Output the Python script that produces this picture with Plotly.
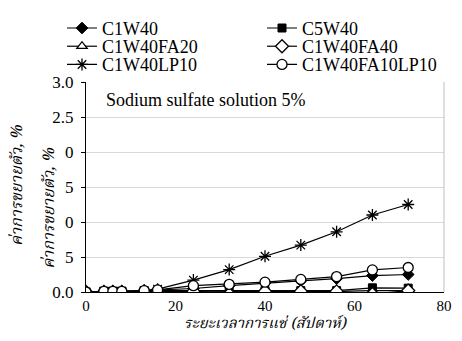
import plotly.graph_objects as go

# Immersion time (weeks)
weeks = [0, 4, 6, 8, 13, 16, 24, 32, 40, 48, 56, 64, 72]

# Expansion (%) for each mix
c1w40 = [0.00, 0.01, 0.01, 0.01, 0.02, 0.03, 0.05, 0.09, 0.13, 0.16, 0.19, 0.235, 0.25]
c5w40 = [0.00, 0.01, 0.01, 0.01, 0.01, 0.02, 0.02, 0.02, 0.02, 0.02, 0.02, 0.06, 0.055]
c1w40fa20 = [0.00, 0.00, 0.00, 0.00, 0.01, 0.01, 0.01, 0.01, 0.01, 0.01, 0.01, 0.02, 0.02]
c1w40fa40 = [0.00, 0.00, 0.00, 0.00, 0.01, 0.01, 0.01, -0.03, 0.01, 0.01, 0.01, -0.03, 0.02]
c1w40lp10 = [0.00, 0.01, 0.01, 0.01, 0.02, 0.04, 0.17, 0.32, 0.51, 0.67, 0.86, 1.10, 1.25]
c1w40fa10lp10 = [0.00, 0.01, 0.01, 0.01, 0.02, 0.03, 0.09, 0.11, 0.14, 0.18, 0.22, 0.315, 0.35]

series_names = ["C1W40", "C5W40", "C1W40FA20", "C1W40FA40", "C1W40LP10", "C1W40FA10LP10"]
series_values = [c1w40, c5w40, c1w40fa20, c1w40fa40, c1w40lp10, c1w40fa10lp10]

x_ticks = [0, 20, 40, 60, 80]
y_ticks = [0.0, 0.5, 1.0, 1.5, 2.0, 2.5, 3.0]
y_tick_text = ["0.0", "0.5", "1.0", "1.5", "2.0", "2.5", "3.0"]

marker_styles = [
    dict(symbol="diamond", size=9, color="black", line=dict(color="black", width=1)),
    dict(symbol="square", size=8, color="black", line=dict(color="black", width=1)),
    dict(symbol="triangle-up", size=9, color="white", line=dict(color="black", width=1.3)),
    dict(symbol="diamond", size=10, color="white", line=dict(color="black", width=1.3)),
    dict(symbol="asterisk-open", size=10, color="black", line=dict(color="black", width=1.3)),
    dict(symbol="circle", size=10, color="white", line=dict(color="black", width=1.3)),
]

# legend rows: two entries per row, one legend per row
legend_ids = ["legend", "legend", "legend2", "legend2", "legend3", "legend3"]

serif = "Liberation Serif, Times New Roman, serif"
thai = "Noto Serif Thai, Noto Sans Thai, Liberation Serif, serif"

PLOT_TOP, PLOT_BOTTOM = 73, 292
plot_h = PLOT_BOTTOM - PLOT_TOP


def paper_y(px):
    return (PLOT_BOTTOM - px) / plot_h


fig = go.Figure()
for name, vals, mk, lg in zip(series_names, series_values, marker_styles, legend_ids):
    fig.add_trace(go.Scatter(
        x=weeks, y=vals, name=name, mode="lines+markers",
        line=dict(color="black", width=1.2),
        marker=mk, legend=lg,
    ))


def legend_row(yc):
    return dict(
        orientation="h", x=-0.035, y=paper_y(yc), xanchor="left", yanchor="middle",
        entrywidth=155, entrywidthmode="pixels",
        font=dict(family=serif, size=18, color="black"),
        itemwidth=30, tracegroupgap=0, bgcolor="rgba(0,0,0,0)",
    )


fig.update_layout(
    width=462, height=341,
    margin=dict(l=86, r=10, t=PLOT_TOP, b=341 - PLOT_BOTTOM),
    paper_bgcolor="white", plot_bgcolor="white",
    font=dict(family=serif, size=16, color="black"),
    showlegend=True,
    legend=legend_row(17),
    legend2=legend_row(36),
    legend3=legend_row(55),
    xaxis=dict(
        range=[0, 80], tickvals=x_ticks, showgrid=False, zeroline=False,
        showline=True, linecolor="black", linewidth=1.2,
        ticks="", tickfont=dict(family=serif, size=15),
        mirror=False,
    ),
    yaxis=dict(
        range=[0, 3.0], tickvals=y_ticks, ticktext=y_tick_text,
        showgrid=True, gridcolor="#d9d9d9", gridwidth=1, zeroline=False,
        showline=True, linecolor="black", linewidth=1.2,
        ticks="outside", ticklen=4, tickcolor="black",
        ticklabelstandoff=4, tickfont=dict(family=serif, size=17),
    ),
    shapes=[dict(type="line", xref="paper", yref="paper", x0=1, x1=1, y0=0, y1=1,
                 line=dict(color="#bfbfbf", width=1))],
    annotations=[
        dict(text="Sodium sulfate solution 5%", xref="paper", yref="paper",
             x=0.05, y=paper_y(92), xanchor="left", yanchor="middle", showarrow=False,
             font=dict(family=serif, size=18)),
        dict(text="<i>ระยะเวลาการแช่ (สัปดาห์)</i>", xref="paper", yref="paper",
             x=0.5, y=paper_y(340), xanchor="center", yanchor="bottom", showarrow=False,
             font=dict(family=thai, size=15)),
        dict(text="<i>ค่าการขยายตัว, %</i>", xref="paper", yref="paper",
             x=-0.19, y=0.51, xanchor="center", yanchor="middle", showarrow=False,
             textangle=-90, bgcolor="white", font=dict(family=thai, size=16)),
        dict(text="<i>ค่าการขยายตัว, %</i>", xref="paper", yref="paper",
             x=-0.101, y=0.40, xanchor="center", yanchor="middle", showarrow=False,
             textangle=-90, bgcolor="white", font=dict(family=thai, size=16)),
    ],
)

fig.write_html("out.html")
